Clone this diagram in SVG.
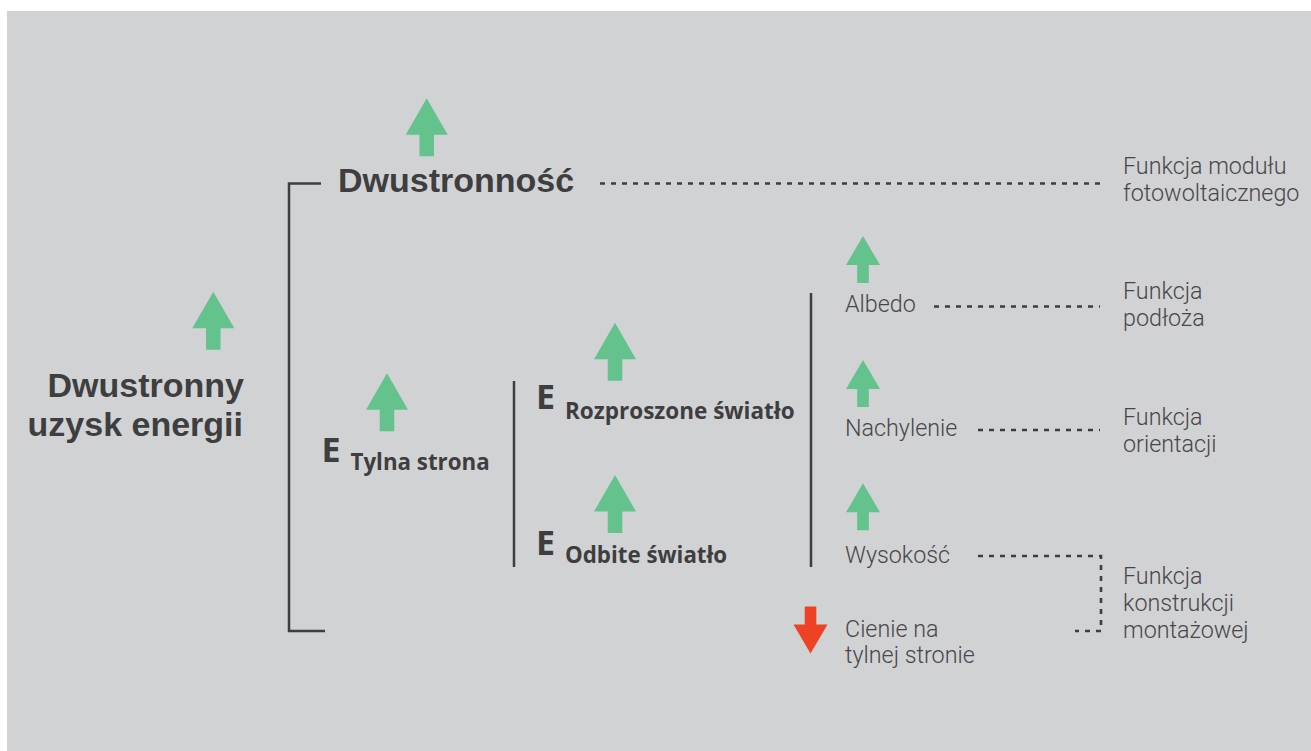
<svg xmlns="http://www.w3.org/2000/svg" xmlns:xlink="http://www.w3.org/1999/xlink" width="1311" height="751" viewBox="0 0 1311 751">
<style>
.bold{font-family:"Open Sans","Noto Sans","Liberation Sans",sans-serif;font-weight:700;fill:#3e3e40}
.head{font-family:"Liberation Sans",Arial,sans-serif;font-weight:700;fill:#3e3e40;font-size:34px}
.light{font-family:Roboto,"Open Sans","Liberation Sans",sans-serif;font-weight:300;fill:#47474a;font-size:23.3px}
.line{stroke:#3e3e40;stroke-width:2.5;fill:none}
.dot{stroke:#3e3e40;stroke-width:2.6;fill:none;stroke-dasharray:5 6}
.up{fill:#64c28d}
.down{fill:#ee4224}
</style>
<defs>
<polygon id="bigArrow" points="0,0 21,36.5 7.25,36.5 7.25,58 -7.25,58 -7.25,36.5 -21,36.5"/>
<polygon id="smallArrow" points="0,0 17,29 5.8,29 5.8,47 -5.8,47 -5.8,29 -17,29"/>
</defs>
<rect x="7" y="11" width="1304" height="740" fill="#d1d2d4"/>

<g id="connectors">
<path class="line" d="M321,183.5 H289 V631 H325"/>
<path class="line" d="M514,381 V567"/>
<path class="line" d="M811,293 V567"/>
<path class="dot" d="M600,183.5 H1100"/>
<path class="dot" d="M934,306.5 H1100"/>
<path class="dot" d="M978,430 H1100"/>
<path class="dot" d="M978,556 H1101 V631 H1075"/>
</g>

<g id="node-dwustronny">
<use href="#bigArrow" class="up" x="213.3" y="291.7"/>
<text class="head" text-anchor="end"><tspan x="244" y="397">Dwustronny</tspan><tspan x="243" y="436">uzysk energii</tspan></text>
</g>

<g id="node-dwustronnosc">
<use href="#bigArrow" class="up" x="426.7" y="98.3"/>
<text class="head" x="338" y="192">Dwustronność</text>
</g>

<g id="node-funkcja-modulu">
<text class="light"><tspan x="1123" y="174">Funkcja modułu</tspan><tspan x="1123" y="201">fotowoltaicznego</tspan></text>
</g>

<g id="node-tylna">
<use href="#bigArrow" class="up" x="387" y="373.3"/>
<text class="bold" x="321.5" y="462.3" font-size="34">E</text>
<text class="bold" x="350.5" y="470" font-size="22.3">Tylna strona</text>
</g>

<g id="node-rozproszone">
<use href="#bigArrow" class="up" x="615" y="322.7"/>
<text class="bold" x="536" y="409.3" font-size="34">E</text>
<text class="bold" x="565" y="418.7" font-size="22.5">Rozproszone światło</text>
</g>

<g id="node-odbite">
<use href="#bigArrow" class="up" x="615" y="475"/>
<text class="bold" x="536" y="555" font-size="34">E</text>
<text class="bold" x="565" y="563.3" font-size="22.3">Odbite światło</text>
</g>

<g id="node-albedo">
<use href="#smallArrow" class="up" x="863" y="236"/>
<text class="light" x="845" y="311.7">Albedo</text>
</g>

<g id="node-nachylenie">
<use href="#smallArrow" class="up" x="863" y="360"/>
<text class="light" x="845" y="436">Nachylenie</text>
</g>

<g id="node-wysokosc">
<use href="#smallArrow" class="up" x="863" y="483.3"/>
<text class="light" x="845" y="562.7">Wysokość</text>
</g>

<g id="node-cienie">
<use href="#smallArrow" class="down" transform="translate(810.5,653.5) rotate(180)"/>
<text class="light"><tspan x="845" y="636.7">Cienie na</tspan><tspan x="845" y="663.3">tylnej stronie</tspan></text>
</g>

<g id="node-funkcja-podloza">
<text class="light"><tspan x="1123" y="299.3">Funkcja</tspan><tspan x="1123" y="326">podłoża</tspan></text>
</g>

<g id="node-funkcja-orientacji">
<text class="light"><tspan x="1123" y="425">Funkcja</tspan><tspan x="1123" y="452">orientacji</tspan></text>
</g>

<g id="node-funkcja-konstrukcji">
<text class="light"><tspan x="1123" y="584">Funkcja</tspan><tspan x="1123" y="611">konstrukcji</tspan><tspan x="1123" y="638">montażowej</tspan></text>
</g>
</svg>
